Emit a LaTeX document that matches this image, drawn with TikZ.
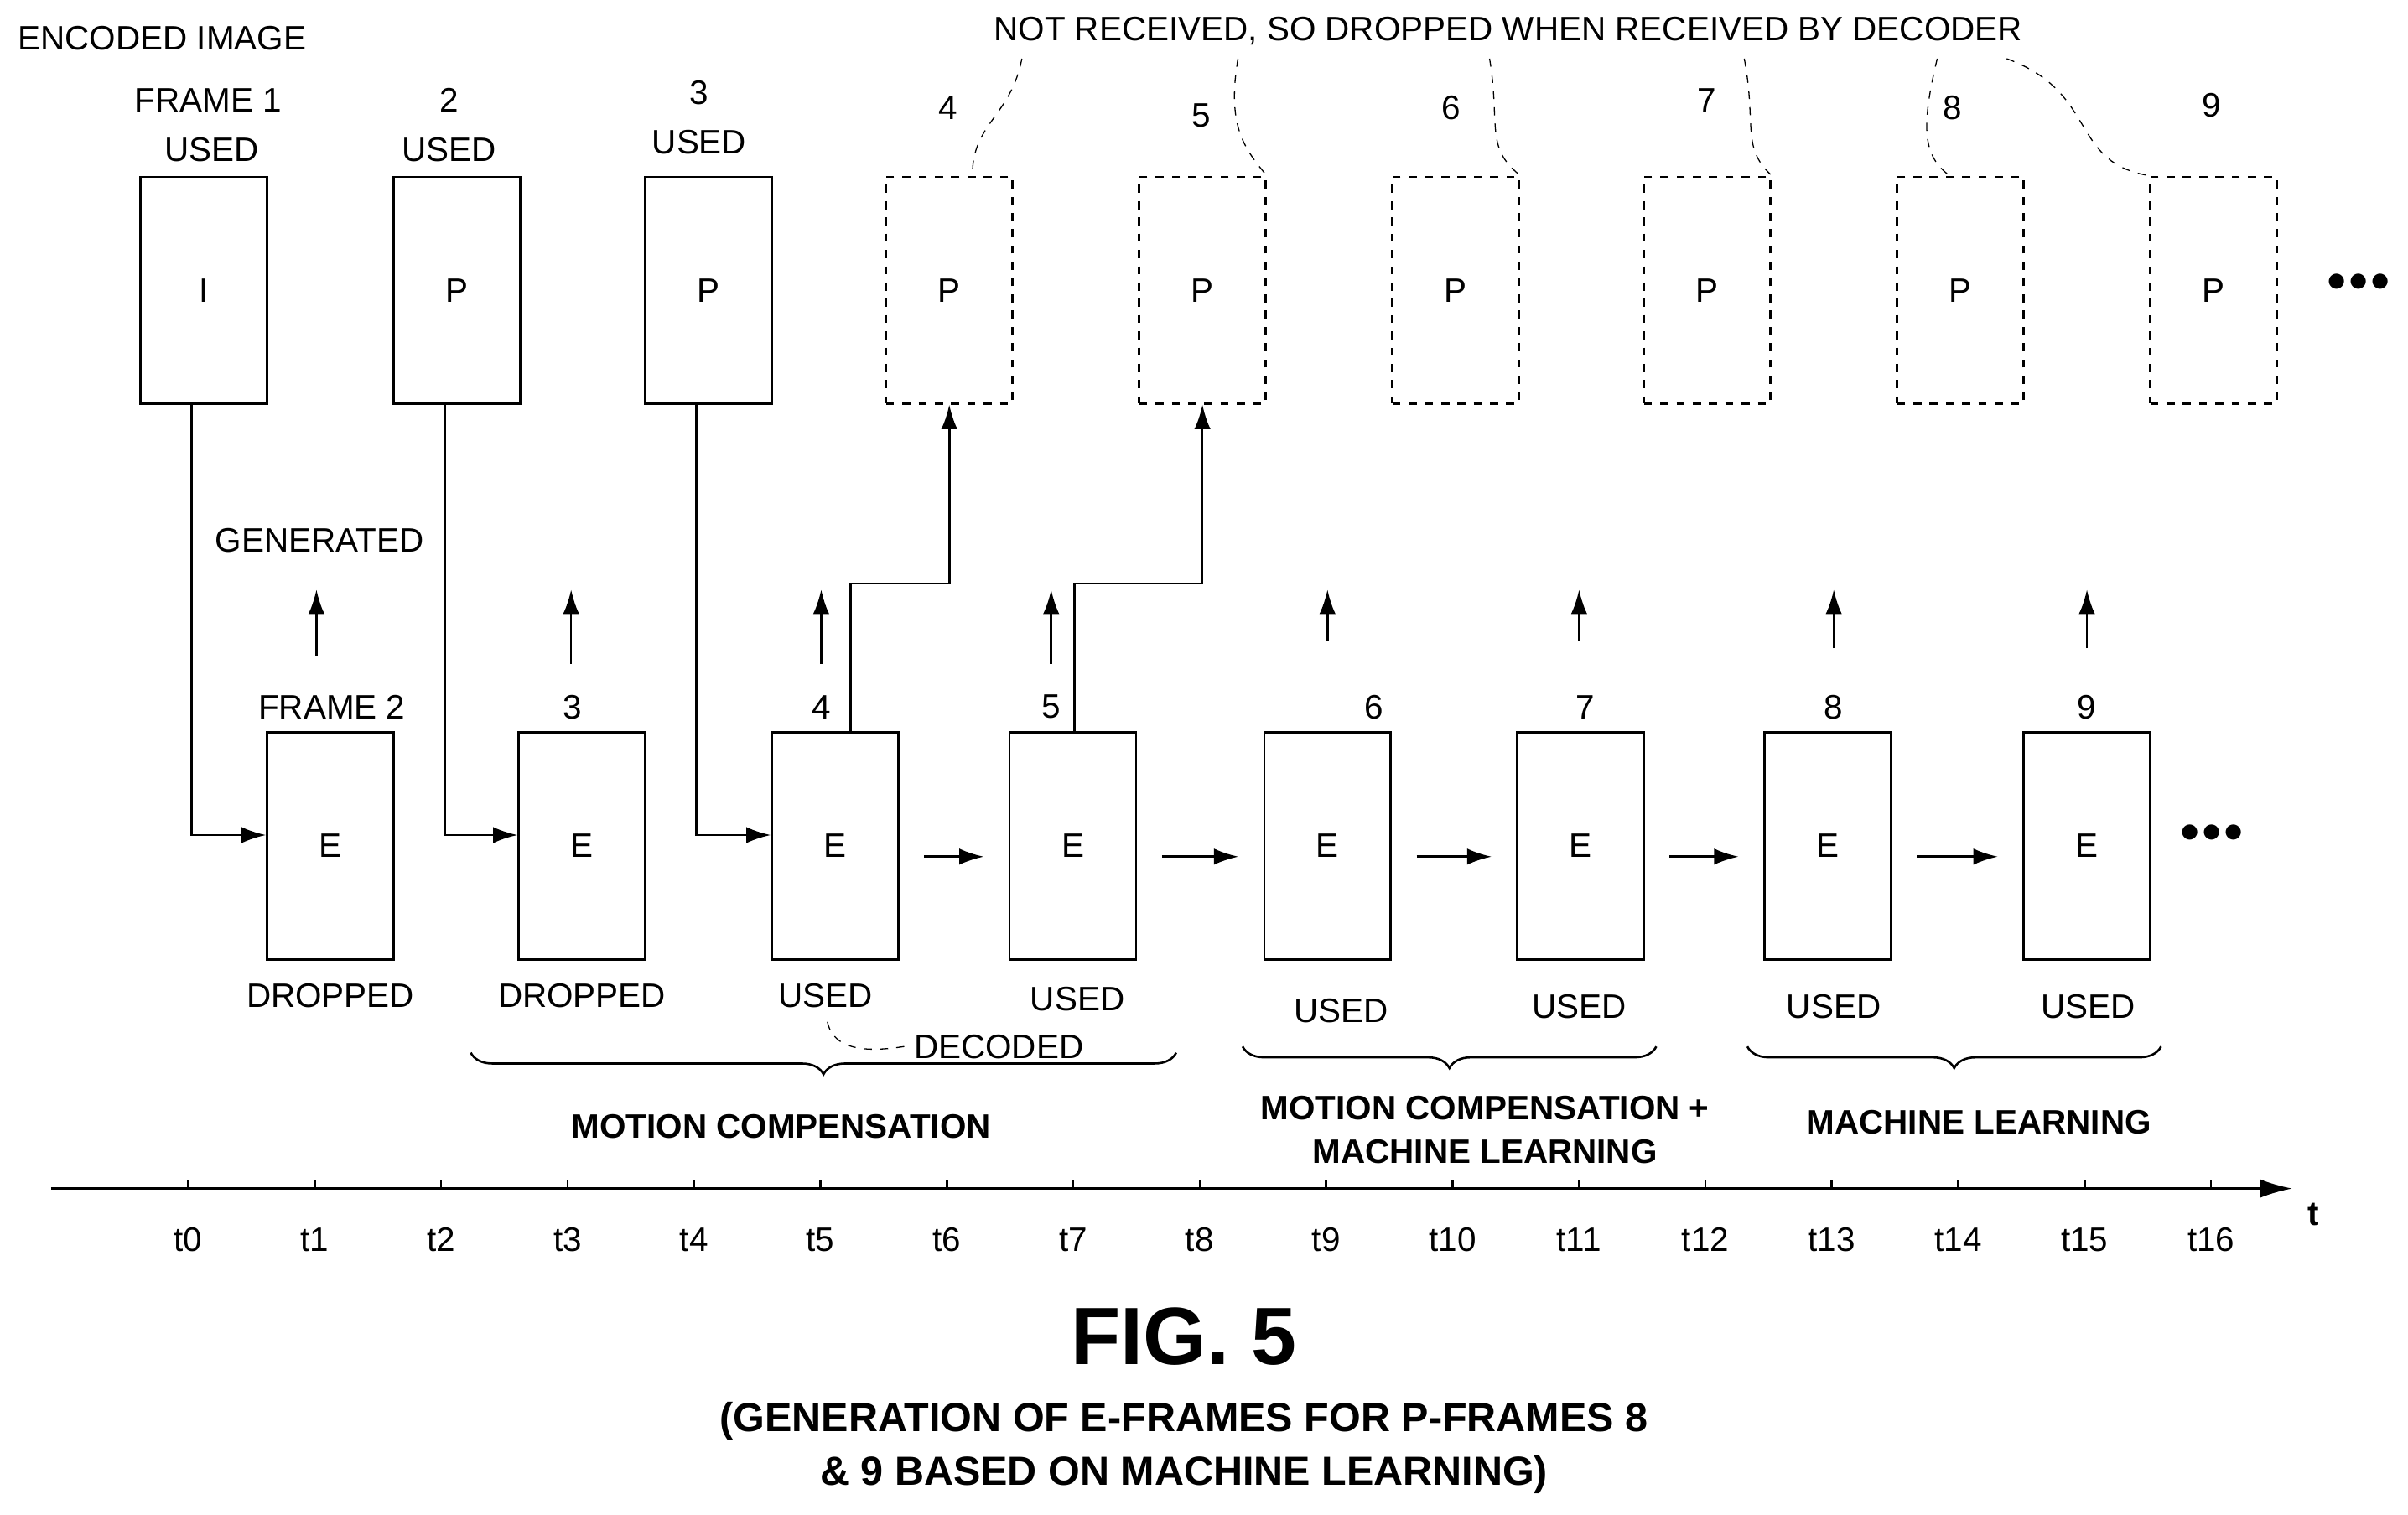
\documentclass[tikz,border=0pt]{standalone}
\usepackage{fontspec}
\setmainfont{Liberation Sans}
\usetikzlibrary{positioning,decorations.pathreplacing,arrows.meta}
\begin{document}
\begin{tikzpicture}[x=0.02cm,y=-0.02cm,>={Latex[length=9pt,width=6pt]},
    font=\fontsize{12.5}{15}\selectfont,
    frame/.style={draw,thick,minimum width=82*0.02cm,minimum height=147*0.02cm,inner sep=0pt},
    lost/.style={frame,dashed},
    bold/.style={font=\fontsize{12.5}{16}\selectfont\bfseries,align=center},
    wiggle/.style={dashed,thin}]
    \useasboundingbox (0,0) rectangle (1560,981);

    % Top row of frames
    \node[frame] (p1) at (132,188) {I};
    \node[frame] (p2) at (296,188) {P};
    \node[frame] (p3) at (459,188) {P};
    \foreach \n/\x in {4/615,5/779,6/943,7/1106,8/1270,9/1434}
        \node[lost] (p\n) at (\x,188) {P};
    \node at (1528,183) {\Large$\bullet\!\bullet\!\bullet$};

    % Top labels
    \node at (105,25) {ENCODED IMAGE};
    \node at (135,65) {FRAME 1};
    \node at (137,97) {USED};
    \node at (291,65) {2};
    \node at (291,97) {USED};
    \node at (453,60) {3};
    \node at (453,92) {USED};
    \node at (614,70) {4};
    \node at (778,75) {5};
    \node at (940,70) {6};
    \node at (1106,65) {7};
    \node at (1265,70) {8};
    \node at (1433,68) {9};
    \node (nr) at (977,20) {NOT RECEIVED, SO DROPPED WHEN RECEIVED BY DECODER};
    \draw[wiggle] (662,38) .. controls (655,75) and (630,80) .. (630,113);
    \draw[wiggle] (802,38) .. controls (795,80) and (805,95) .. (820,113);
    \draw[wiggle] (965,38) .. controls (972,80) and (962,95) .. (984,113);
    \draw[wiggle] (1130,38) .. controls (1138,80) and (1128,95) .. (1147,113);
    \draw[wiggle] (1255,38) .. controls (1245,80) and (1245,100) .. (1262,113);
    \draw[wiggle] (1300,38) .. controls (1360,60) and (1340,105) .. (p9.north west);

    % Bottom row of E-frames
    \foreach \n/\x in {1/214,2/377,3/541,4/695,5/860,6/1024,7/1184,8/1352}
        \node[frame] (e\n) at (\x,548) {E};
    \node at (1433,540) {\Large$\bullet\!\bullet\!\bullet$};

    % Inputs into E-frames
    \draw[thick,->] (p1.south -| 124,0) |- (e1.west |- 0,541);
    \draw[thick,->] (p2.south -| 288,0) |- (e2.west |- 0,541);
    \draw[thick,->] (p3.south -| 451,0) |- (e3.west |- 0,541);
    \foreach \a/\b in {3/4,4/5,5/6,6/7,7/8}
        \draw[thick,->] ([xshift=16*0.02cm,yshift=-7*0.02cm]e\a.east) -- ([xshift=-16*0.02cm,yshift=-7*0.02cm]e\b.west);

    % Generated arrows
    \foreach \x/\t/\l/\lx in {205/425/{FRAME 2}/215,370/430/3/371,532/430/4/532,681/430/5/681,860/415/6/890,1023/415/7/1027,1188/420/8/1188,1352/420/9/1352}{
        \draw[thick,->] (\x,\t) -- (\x,382);
        \node at (\lx,458) {\l};
    }
    \node at (207,350) {GENERATED};
    \draw[thick,->] (e3.north -| 551,0) |- (615,378) -- (p4.south);
    \draw[thick,->] (e4.north -| 696,0) |- (779,378) -- (p5.south);

    % Status labels
    \node at (214,645) {DROPPED};
    \node at (377,645) {DROPPED};
    \node (u3) at (535,645) {USED};
    \node at (698,647) {USED};
    \node at (869,655) {USED};
    \node at (1023,652) {USED};
    \node at (1188,652) {USED};
    \node at (1353,652) {USED};
    \node (dec) at (647,678) {DECODED};
    \draw[wiggle] (536,662) .. controls (540,680) and (560,682) .. (dec.west);

    % Braces
    \draw[thick,decorate,decoration={brace,mirror,amplitude=14*0.02cm}] (305,682) -- (762,682);
    \draw[thick,decorate,decoration={brace,mirror,amplitude=14*0.02cm}] (805,678) -- (1073,678);
    \draw[thick,decorate,decoration={brace,mirror,amplitude=14*0.02cm}] (1132,678) -- (1400,678);
    \node[bold] at (506,730) {MOTION COMPENSATION};
    \node[bold] at (962,732) {MOTION COMPENSATION +\\MACHINE LEARNING};
    \node[bold] at (1282,727) {MACHINE LEARNING};

    % Time axis
    \draw[thick,-{Latex[length=12pt,width=7pt]}] (33,770) -- (1485,770);
    \node at (1499,787) {\bfseries t};
    \foreach \i in {0,...,16}{
        \draw[thick] (122+81.9*\i,770) -- (122+81.9*\i,764);
        \node at (122+81.9*\i,803) {t\i};
    }

    % Caption
    \node[font=\fontsize{30}{34}\selectfont\bfseries] at (767,866) {FIG. 5};
    \node[font=\fontsize{15}{20}\selectfont\bfseries,align=center] at (767,938)
        {(GENERATION OF E-FRAMES FOR P-FRAMES 8\\\& 9 BASED ON MACHINE LEARNING)};
\end{tikzpicture}
\end{document}
